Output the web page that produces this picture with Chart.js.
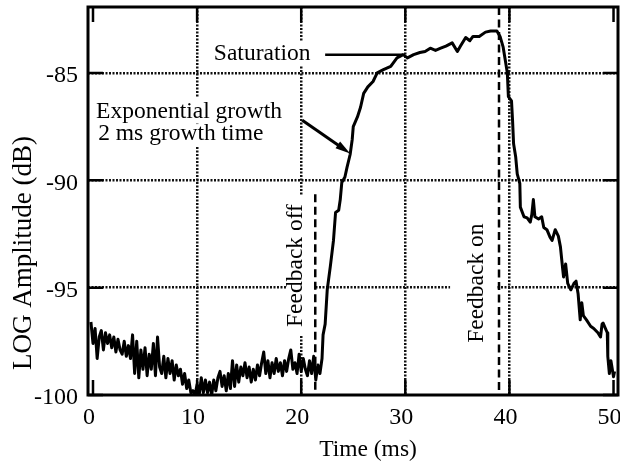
<!DOCTYPE html>
<html>
<head>
<meta charset="utf-8">
<script src="https://cdn.jsdelivr.net/npm/chart.js@4.4.1/dist/chart.umd.min.js"></script>
<style>
  html, body { margin: 0; padding: 0; background: #fff; }
  #wrap { width: 620px; height: 469px; }
</style>
</head>
<body>
<div id="wrap"><canvas id="chart" width="620" height="469"></canvas></div>
<script>
// values
const timeMs = [
  -0.2, 0.0, 0.2, 0.4, 0.6, 0.8, 1.0, 1.2, 1.4, 1.6, 1.8, 2.0, 2.2, 2.4, 2.6, 2.8, 3.0, 3.2, 3.4, 3.6,
  3.8, 4.0, 4.2, 4.4, 4.6, 4.8, 5.0, 5.2, 5.4, 5.6, 5.8, 6.0, 6.2, 6.4, 6.6, 6.8, 7.0, 7.2, 7.4, 7.6,
  7.8, 8.0, 8.2, 8.4, 8.6, 8.8, 9.0, 9.2, 9.4, 9.6, 9.8, 10.0, 10.2, 10.4, 10.6, 10.8, 11.0, 11.2, 11.4, 11.6,
  11.8, 12.0, 12.2, 12.4, 12.6, 12.8, 13.0, 13.2, 13.4, 13.6, 13.8, 14.0, 14.2, 14.4, 14.6, 14.8, 15.0, 15.2, 15.4, 15.6,
  15.8, 16.0, 16.2, 16.4, 16.6, 16.8, 17.0, 17.2, 17.4, 17.6, 17.8, 18.0, 18.2, 18.4, 18.6, 18.8, 19.0, 19.2, 19.4, 19.6,
  19.8, 20.0, 20.2, 20.4, 20.6, 20.8, 21.0, 21.2, 21.4, 21.6, 21.8, 22.0,
  22.1, 22.3, 22.5, 22.8, 23.1, 23.3, 23.6, 23.75, 23.9, 24.2, 24.4, 24.7, 24.9, 25.0, 25.4, 25.7, 26.0, 26.4, 26.9, 27.3,
  27.9, 28.6, 29.2, 29.8, 30.2, 30.8, 31.4, 31.9, 32.4, 32.9, 33.4, 33.9, 34.5, 35.0, 35.3, 35.8, 36.2, 36.5, 37.1, 37.7,
  38.2, 38.8, 39.1, 39.4, 39.6, 39.8, 39.9, 40.2, 40.3, 40.4, 40.6, 40.75, 41.0, 41.05, 41.4, 41.7, 42.0, 42.15, 42.3, 42.45,
  42.8, 43.1, 43.3, 43.6, 43.9, 44.1, 44.4, 44.7, 44.9, 45.1, 45.2, 45.4, 45.6, 45.9, 46.2, 46.4, 46.6, 46.8, 46.95, 47.1,
  47.4, 47.8, 48.1, 48.5, 48.75, 48.9, 49.0, 49.4, 49.45, 49.6, 49.75, 50.0, 50.1
];
const amplitudeDb = [
  -96.6, -97.6, -96.9, -98.3, -97.3, -97.0, -97.9, -97.1, -97.6, -97.2, -97.8, -97.3, -98.0, -97.4, -97.9, -98.1, -97.5, -98.2, -97.7, -98.3,
  -97.2, -99.0, -97.5, -99.2, -97.9, -98.8, -97.8, -99.1, -98.1, -98.8, -97.6, -99.1, -97.3, -98.7, -99.0, -98.2, -99.2, -98.3, -99.0, -98.4,
  -99.3, -98.6, -99.1, -98.8, -99.5, -99.0, -99.7, -99.3, -99.9, -99.8, -100.0, -99.5, -100.0, -99.2, -99.9, -99.3, -99.9, -99.4, -100.0, -99.3,
  -99.8, -99.2, -98.9, -99.6, -99.1, -99.8, -99.0, -99.7, -98.4, -99.6, -98.6, -99.4, -98.7, -99.1, -98.5, -99.2, -98.7, -99.4, -98.8, -99.3,
  -98.6, -99.1, -98.5, -98.0, -99.0, -98.4, -99.2, -98.5, -99.0, -98.3, -98.9, -98.5, -99.1, -98.4, -98.9, -98.3, -97.9, -98.8, -98.5, -99.0,
  -98.1, -98.9, -98.3, -98.8, -99.1, -98.4, -99.0, -98.2, -99.3, -98.6, -99.0, -98.3,
  -97.2, -96.7, -95.1, -94.0, -92.8, -91.5, -91.4, -90.9, -90.1, -89.85, -89.4, -88.8, -88.1, -87.5, -87.05, -86.6, -85.95, -85.65, -85.4, -85.0,
  -84.85, -84.7, -84.3, -84.15, -84.3, -84.15, -84.05, -84.0, -83.85, -83.95, -83.85, -83.75, -83.6, -84.0, -83.75, -83.35, -83.5, -83.3, -83.3, -83.1,
  -83.05, -83.05, -83.3, -83.8, -84.4, -85.0, -86.1, -86.3, -87.2, -88.3, -88.9, -89.7, -90.15, -91.25, -91.7, -91.75, -91.95, -91.6, -90.9, -91.7,
  -91.8, -91.7, -92.2, -92.3, -92.65, -92.8, -92.3, -92.6, -93.1, -94.05, -94.5, -93.9, -94.8, -95.1, -94.8, -94.7, -95.3, -96.5, -95.7, -96.3,
  -96.5, -96.8, -96.9, -97.1, -97.3, -96.7, -96.65, -97.1, -98.2, -99.0, -98.4, -99.15, -98.9
];
const xTicks = [0, 10, 20, 30, 40, 50];
const yTicks = [-100, -95, -90, -85];
const xGrid = [10, 20, 30, 40];
const yGrid = [-95, -90, -85];
const feedbackOffMs = 21.35;
const feedbackOnMs = 39.0;

const FONT = '"Liberation Serif", "Times New Roman", Times, serif';

// annotation texts: anchor in data units, white box offsets in px (local frame)
const notes = [
  { text: 'Saturation', t: 16.25, db: -84.1, align: 'center', rot: 0, box: [-51, 51, -12, 12] },
  { text: 'Exponential growth', t: 0.3, db: -86.8, align: 'left', rot: 0, box: [-3, 190, -14, 12] },
  { text: '2 ms growth time', t: 0.5, db: -87.85, align: 'left', rot: 0, box: [-5, 172, -10, 12] },
  { text: 'Feedback off', t: 19.5, db: -93.97, align: 'center', rot: -Math.PI / 2, box: [-70, 70, -10, 18] },
  { text: 'Feedback on', t: 36.9, db: -94.79, align: 'center', rot: -Math.PI / 2, box: [-68, 68, -27, 19] }
];

const figureMarks = {
  id: 'figureMarks',
  beforeDatasetsDraw(chart) {
    const { ctx, scales: { x, y } } = chart;
    ctx.save();
    ctx.font = '23.5px ' + FONT;
    ctx.textBaseline = 'middle';
    notes.forEach(n => {
      ctx.save();
      ctx.translate(x.getPixelForValue(n.t), y.getPixelForValue(n.db));
      ctx.rotate(n.rot);
      ctx.fillStyle = '#fff';
      ctx.fillRect(n.box[0], n.box[2], n.box[1] - n.box[0], n.box[3] - n.box[2]);
      ctx.fillStyle = '#000';
      ctx.textAlign = n.align;
      ctx.fillText(n.text, 0, 0);
      ctx.restore();
    });
    ctx.restore();
  },
  afterDatasetsDraw(chart) {
    const { ctx, chartArea: a, scales: { x, y } } = chart;
    ctx.save();
    ctx.strokeStyle = '#000';
    ctx.fillStyle = '#000';

    // feedback markers
    ctx.lineWidth = 2.5;
    ctx.setLineDash([8, 4.5]);
    const xo = x.getPixelForValue(feedbackOffMs), xn = x.getPixelForValue(feedbackOnMs);
    ctx.beginPath();
    ctx.moveTo(xo, y.getPixelForValue(-90.65)); ctx.lineTo(xo, a.bottom);
    ctx.moveTo(xn, a.top); ctx.lineTo(xn, a.bottom);
    ctx.stroke();
    ctx.setLineDash([]);

    // saturation leader
    ctx.beginPath();
    ctx.moveTo(x.getPixelForValue(22.3), y.getPixelForValue(-84.15));
    ctx.lineTo(x.getPixelForValue(29.8), y.getPixelForValue(-84.15));
    ctx.stroke();

    // growth arrow
    const x0 = x.getPixelForValue(20.1), y0 = y.getPixelForValue(-87.2);
    const x1 = x.getPixelForValue(24.7), y1 = y.getPixelForValue(-88.75);
    const ang = Math.atan2(y1 - y0, x1 - x0);
    ctx.lineWidth = 3;
    ctx.beginPath();
    ctx.moveTo(x0, y0);
    ctx.lineTo(x1 - 10 * Math.cos(ang), y1 - 10 * Math.sin(ang));
    ctx.stroke();
    ctx.beginPath();
    ctx.moveTo(x1, y1);
    ctx.lineTo(x1 - 15 * Math.cos(ang) + 4 * Math.sin(ang), y1 - 15 * Math.sin(ang) - 4 * Math.cos(ang));
    ctx.lineTo(x1 - 15 * Math.cos(ang) - 4 * Math.sin(ang), y1 - 15 * Math.sin(ang) + 4 * Math.cos(ang));
    ctx.closePath();
    ctx.fill();

    // inward ticks on all four sides
    ctx.lineWidth = 2.5;
    ctx.beginPath();
    xTicks.forEach(v => {
      const p = x.getPixelForValue(v);
      ctx.moveTo(p, a.bottom); ctx.lineTo(p, a.bottom - 15);
      ctx.moveTo(p, a.top); ctx.lineTo(p, a.top + 15);
    });
    yTicks.forEach(v => {
      const p = y.getPixelForValue(v);
      ctx.moveTo(a.left, p); ctx.lineTo(a.left + 15, p);
      ctx.moveTo(a.right, p); ctx.lineTo(a.right - 15, p);
    });
    ctx.stroke();

    // frame
    ctx.lineWidth = 3;
    ctx.strokeRect(a.left, a.top, a.right - a.left, a.bottom - a.top);

    // axis titles
    ctx.textBaseline = 'middle';
    ctx.textAlign = 'center';
    ctx.font = '23.5px ' + FONT;
    ctx.fillText('Time (ms)', 368, 450);
    ctx.translate(24, 253);
    ctx.rotate(-Math.PI / 2);
    ctx.font = '27px ' + FONT;
    ctx.fillText('LOG Amplitude (dB)', 0, 0);
    ctx.restore();
  }
};

const gridColor = list => c => list.includes(c.tick.value) ? '#111' : 'rgba(0,0,0,0)';

new Chart(document.getElementById('chart'), {
  type: 'line',
  data: {
    datasets: [{
      data: timeMs.map((t, i) => ({ x: t, y: amplitudeDb[i] })),
      borderColor: '#000',
      borderWidth: 3,
      borderJoinStyle: 'round',
      pointRadius: 0,
      tension: 0
    }]
  },
  options: {
    responsive: false,
    animation: false,
    devicePixelRatio: 1,
    layout: { padding: { left: 0, right: 2, top: 7, bottom: 0 } },
    plugins: { legend: { display: false }, tooltip: { enabled: false } },
    scales: {
      x: {
        type: 'linear', min: -0.48, max: 50.43,
        afterBuildTicks: s => { s.ticks = xTicks.map(v => ({ value: v })); },
        afterFit: s => { s.height = 74; s.paddingLeft = 0; s.paddingRight = 0; },
        ticks: { color: '#000', font: { family: FONT, size: 24 }, padding: 8, labelOffset: -4, maxRotation: 0, autoSkip: false },
        grid: { color: gridColor(xGrid), lineWidth: 2.5, drawTicks: false },
        border: { display: false, dash: [2, 1.5] }
      },
      y: {
        type: 'linear', min: -100, max: -81.93,
        afterBuildTicks: s => { s.ticks = yTicks.map(v => ({ value: v })); },
        afterFit: s => { s.width = 88; s.paddingTop = 0; s.paddingBottom = 0; },
        ticks: { color: '#000', font: { family: FONT, size: 24 }, padding: 10, labelOffset: 3, autoSkip: false },
        grid: { color: gridColor(yGrid), lineWidth: 2.5, drawTicks: false },
        border: { display: false, dash: [2, 1.5] }
      }
    }
  },
  plugins: [figureMarks]
});
</script>
</body>
</html>
